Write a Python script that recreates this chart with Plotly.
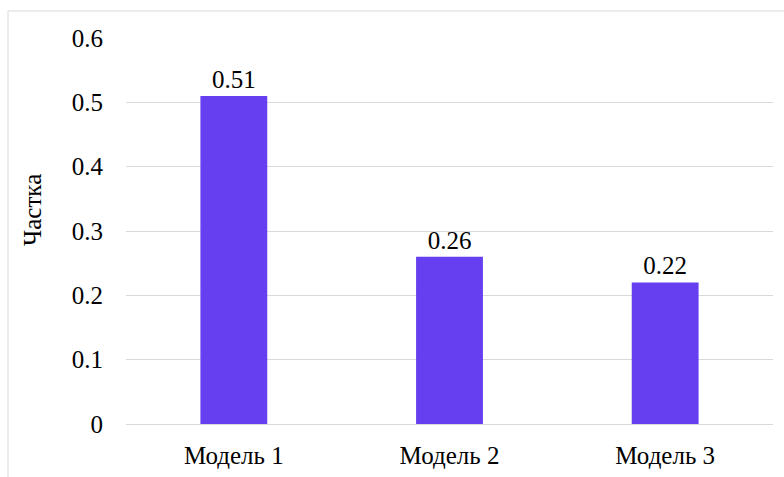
import plotly.graph_objects as go

categories = ["Модель 1", "Модель 2", "Модель 3"]
values = [0.51, 0.26, 0.22]
value_labels = ["0.51", "0.26", "0.22"]
y_ticks = [0, 0.1, 0.2, 0.3, 0.4, 0.5, 0.6]
y_tick_labels = ["0", "0.1", "0.2", "0.3", "0.4", "0.5", "0.6"]
y_title = "Частка"

W, H = 784, 477
L, R, T, B = 126, 11, 38, 53
pw, ph = W - L - R, H - T - B

FONT = "Liberation Serif"
FS = 25

fig = go.Figure(go.Bar(
    x=categories, y=values,
    text=value_labels, textposition="outside",
    textfont=dict(family=FONT, size=FS, color="black"),
    marker=dict(color="#6640F0", line=dict(width=0)),
    width=0.31, cliponaxis=False,
))

def px_x(p):
    return (p - L) / pw

def px_y(p):
    return (H - B - p) / ph

fig.update_layout(
    width=W, height=H,
    margin=dict(l=L, r=R, t=T, b=B),
    paper_bgcolor="white", plot_bgcolor="white",
    font=dict(family=FONT, size=FS, color="black"),
    showlegend=False,
    xaxis=dict(showgrid=False, showline=False, ticks="", automargin=False,
               tickfont=dict(family=FONT, size=FS, color="black"),
               ticklabelstandoff=14),
    yaxis=dict(range=[0, 0.6], tickvals=y_ticks, ticktext=y_tick_labels,
               showgrid=True, gridcolor="#d9d9d9", gridwidth=1,
               zeroline=True, zerolinecolor="#d9d9d9", zerolinewidth=1,
               showline=False, ticks="", ticklabelstandoff=22, automargin=False,
               tickfont=dict(family=FONT, size=FS, color="black")),
    annotations=[dict(text=y_title, textangle=-90, xref="paper", yref="paper",
                      x=px_x(32), y=px_y(210), showarrow=False,
                      font=dict(family=FONT, size=FS, color="black"),
                      xanchor="center", yanchor="middle")],
    shapes=[dict(type="rect", xref="paper", yref="paper",
                 x0=px_x(8), x1=px_x(W + 20), y0=px_y(H + 20), y1=px_y(11),
                 line=dict(color="#d9d9d9", width=1), layer="below")],
)

fig.write_html("out.html")
